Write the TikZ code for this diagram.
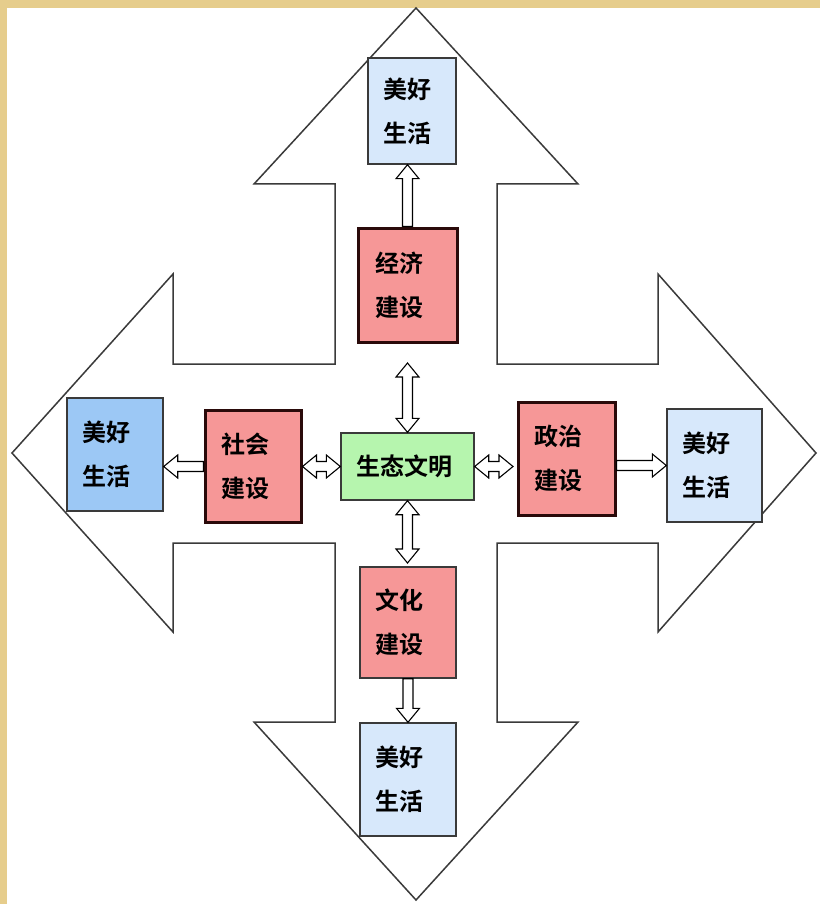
\documentclass[tikz,border=0pt]{standalone}
\usepackage{fontspec}
\newfontfamily\cjk{Noto Sans CJK SC Bold}
\usetikzlibrary{calc}
\definecolor{parch}{HTML}{E6CD8C}
\definecolor{redbox}{HTML}{F69797}
\definecolor{lightblue}{HTML}{D7E8FB}
\definecolor{midblue}{HTML}{9CC8F5}
\definecolor{greenbox}{HTML}{B6F5AE}
\definecolor{outlinegray}{HTML}{3A3A3A}
\definecolor{darkborder}{HTML}{2A0A0A}
\tikzset{
  outline/.style={draw=outlinegray, line width=1.5pt, fill=white, line join=miter},
  hollow/.style={draw=black, line width=1.1pt, fill=white, line join=miter},
  cnbox/.style={rectangle, align=left, inner ysep=0pt, font=\cjk\fontsize{24}{44}\selectfont},
  goodbox/.style={cnbox, draw=outlinegray, line width=1.4pt, fill=lightblue},
  buildbox/.style={cnbox, draw=darkborder, line width=3pt, fill=redbox},
}
\newcommand\hsingle[2]{%
\draw[hollow] let \p1=(#1),\p2=(#2),\n1={veclen(\x2-\x1,\y2-\y1)},\n2={(\x2-\x1)/\n1},\n3={(\y2-\y1)/\n1} in
({\x1-5*\n3},{\y1+5*\n2}) --
({\x1+(\n1-14)*\n2-5*\n3},{\y1+(\n1-14)*\n3+5*\n2}) --
({\x1+(\n1-14)*\n2-11.5*\n3},{\y1+(\n1-14)*\n3+11.5*\n2}) --
(\p2) --
({\x1+(\n1-14)*\n2+11.5*\n3},{\y1+(\n1-14)*\n3-11.5*\n2}) --
({\x1+(\n1-14)*\n2+5*\n3},{\y1+(\n1-14)*\n3-5*\n2}) --
({\x1+5*\n3},{\y1-5*\n2}) -- cycle;}
\newcommand\hdouble[2]{%
\draw[hollow] let \p1=(#1),\p2=(#2),\n1={veclen(\x2-\x1,\y2-\y1)},\n2={(\x2-\x1)/\n1},\n3={(\y2-\y1)/\n1} in
({\x1+14*\n2-5*\n3},{\y1+14*\n3+5*\n2}) --
({\x1+(\n1-14)*\n2-5*\n3},{\y1+(\n1-14)*\n3+5*\n2}) --
({\x1+(\n1-14)*\n2-11.5*\n3},{\y1+(\n1-14)*\n3+11.5*\n2}) --
(\p2) --
({\x1+(\n1-14)*\n2+11.5*\n3},{\y1+(\n1-14)*\n3-11.5*\n2}) --
({\x1+(\n1-14)*\n2+5*\n3},{\y1+(\n1-14)*\n3-5*\n2}) --
({\x1+14*\n2+5*\n3},{\y1+14*\n3-5*\n2}) --
({\x1+14*\n2+11.5*\n3},{\y1+14*\n3-11.5*\n2}) --
(\p1) --
({\x1+14*\n2-11.5*\n3},{\y1+14*\n3+11.5*\n2}) -- cycle;}
\begin{document}
\begin{tikzpicture}[x=1pt,y=-1pt]
\useasboundingbox (0,0) rectangle (820,904);
\fill[parch] (0,0) rectangle (820,904);
\fill[white] (7,8) rectangle (820,904);
% four-way arrow outline
\draw[outline] (416,8) -- (578,184) -- (497,184) -- (497,364) -- (658,364) -- (658,274)
  -- (816,453) -- (658,632) -- (658,543) -- (497,543) -- (497,722) -- (578,722)
  -- (416,900) -- (254,722) -- (335,722) -- (335,543) -- (173,543) -- (173,632)
  -- (12,453) -- (173,274) -- (173,364) -- (335,364) -- (335,184) -- (254,184) -- cycle;
% boxes
\node[goodbox, text width=58pt, inner xsep=15pt, minimum height=106pt] (topgood) at (412,111) {美好\\生活};
\node[buildbox, text width=65pt, inner xsep=17pt, minimum height=114pt] (econ) at (407.5,285) {经济\\建设};
\node[buildbox, text width=64pt, inner xsep=16pt, minimum height=112pt] (soc) at (253,466.5) {社会\\建设};
\node[goodbox, fill=midblue, text width=66pt, inner xsep=15pt, minimum height=113pt] (leftgood) at (115,454.5) {美好\\生活};
\node[cnbox, draw=outlinegray, line width=1.4pt, fill=greenbox, text width=103pt, inner xsep=15pt, minimum height=67pt] (center) at (407.5,466.5) {生态文明};
\node[buildbox, text width=65pt, inner xsep=16pt, minimum height=113pt] (pol) at (566.5,458.5) {政治\\建设};
\node[goodbox, text width=65pt, inner xsep=15pt, minimum height=113pt] (rightgood) at (714.5,465.5) {美好\\生活};
\node[buildbox, draw=outlinegray, line width=1.4pt, text width=66pt, inner xsep=15pt, minimum height=111pt] (cult) at (408,622.5) {文化\\建设};
\node[goodbox, text width=66pt, inner xsep=15pt, minimum height=113pt] (botgood) at (408,779.5) {美好\\生活};
% free ends
\coordinate (ctop) at (407.5,363);
\coordinate (cbot) at (407.5,563);
\coordinate (cright) at (513,466.5);
% connectors
\hsingle{econ.north}{econ.north |- topgood.south}
\hsingle{soc.west}{leftgood.east |- soc.west}
\hsingle{pol.east |- rightgood.west}{rightgood.west}
\hsingle{cult.south}{botgood.north}
\hdouble{ctop}{center.north}
\hdouble{center.south}{cbot}
\hdouble{soc.east}{center.west}
\hdouble{center.east}{cright}
\end{tikzpicture}
\end{document}
